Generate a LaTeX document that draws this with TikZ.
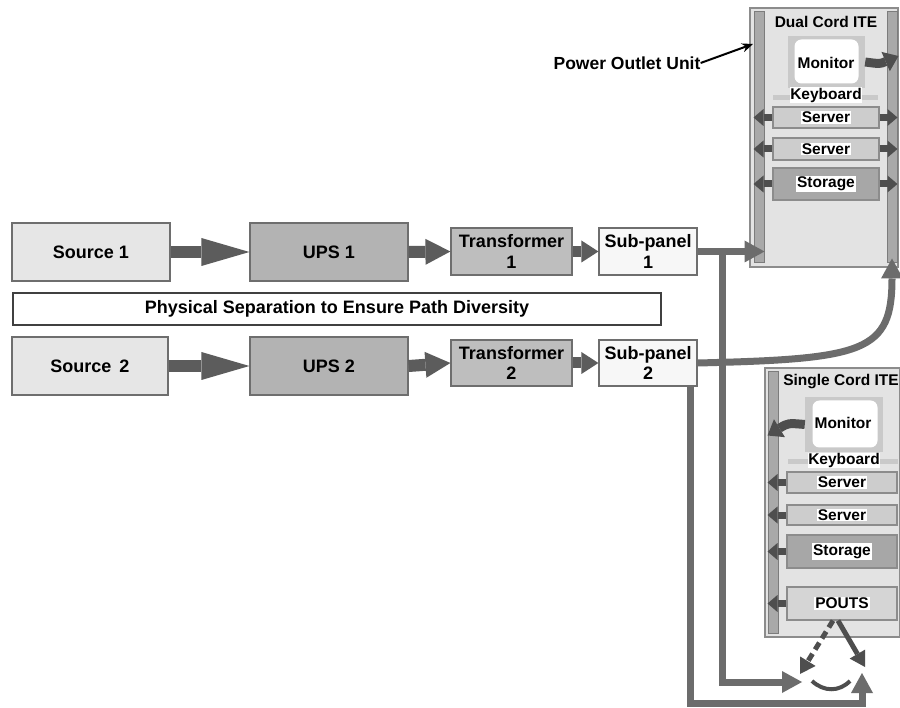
\documentclass[tikz,border=0pt]{standalone}
\usepackage{fontspec}
\setmainfont{Liberation Sans}
\usetikzlibrary{arrows.meta,calc}
\definecolor{boxline}{HTML}{6E6E6E}
\definecolor{srcfill}{HTML}{E6E6E6}
\definecolor{upsfill}{HTML}{B3B3B3}
\definecolor{trfill}{HTML}{BEBEBE}
\definecolor{spfill}{HTML}{F7F7F7}
\definecolor{bigarr}{HTML}{5C5C5C}
\definecolor{connc}{HTML}{6C6C6C}
\definecolor{darkarr}{HTML}{4E4E4E}
\definecolor{rackfill}{HTML}{E3E3E3}
\definecolor{rackline}{HTML}{8C8C8C}
\definecolor{stripfill}{HTML}{A9A9A9}
\definecolor{stripline}{HTML}{7C7C7C}
\definecolor{monfill}{HTML}{C9C9C9}
\definecolor{srvfill}{HTML}{CDCDCD}
\definecolor{stofill}{HTML}{A7A7A7}
\definecolor{poufill}{HTML}{D5D5D5}
\newcommand\biglbl{\fontsize{18}{20.5}\selectfont\bfseries}
\newcommand\racklbl{\fontsize{15.5}{17}\selectfont\bfseries}
\begin{document}
\begin{tikzpicture}[x=1pt,y=-1pt,
  mainbox/.style={draw=boxline,line width=1.2pt,inner sep=0pt,align=center,font=\biglbl},
  bigarrow/.style={draw=bigarr,line width=12pt},
  conn/.style={draw=connc,line width=7pt},
  conntip/.style={-{Triangle[length=20pt,width=22pt,line width=0pt]}},
  rack/.style={draw=rackline,fill=rackfill,line width=1.2pt,inner sep=0pt},
  strip/.style={draw=stripline,fill=stripfill,line width=1pt,inner sep=0pt},
  unit/.style={draw=rackline,line width=1.2pt,inner sep=0pt},
  lbl/.style={fill=white,inner sep=1pt,font=\racklbl},
  ttl/.style={inner sep=0pt,font=\racklbl},
  smarr/.style={draw=darkarr,line width=7pt,-{Triangle[length=10pt,width=17pt,line width=0pt]}},
  monarr/.style={draw=darkarr,line width=9pt,-{Triangle[length=14pt,width=21pt,line width=0pt]}},
  pouarr/.style={draw=darkarr,line width=5pt,-{Triangle[length=15pt,width=18pt,line width=0pt]}}
]
\useasboundingbox[fill=white] (0,0) rectangle (900,708);

% ---------- power path boxes ----------
\node[mainbox,fill=srcfill,minimum width=158pt,minimum height=58pt] (s1) at (91,252) {Source 1};
\node[mainbox,fill=upsfill,minimum width=158pt,minimum height=58pt] (u1) at (329,252) {UPS 1};
\node[mainbox,fill=trfill,minimum width=121pt,minimum height=47pt] (t1) at (511.5,251.5) {Transformer\\1};
\node[mainbox,fill=spfill,minimum width=98pt,minimum height=47pt] (p1) at (648,251.5) {Sub-panel\\1};

\node[mainbox,fill=white,draw=black!75,minimum width=648pt,minimum height=32pt] (sep) at (337,309) {Physical Separation to Ensure Path Diversity};

\node[mainbox,fill=srcfill,minimum width=156pt,minimum height=58pt] (s2) at (90,366) {Source\, 2};
\node[mainbox,fill=upsfill,minimum width=158pt,minimum height=58pt] (u2) at (329,366) {UPS 2};
\node[mainbox,fill=trfill,minimum width=121pt,minimum height=46pt] (t2) at (511.5,363) {Transformer\\2};
\node[mainbox,fill=spfill,minimum width=98pt,minimum height=46pt] (p2) at (648,363) {Sub-panel\\2};

\draw[bigarrow,-{Triangle[length=48pt,width=28pt,line width=0pt]}] (s1.east) -- (u1.west);
\draw[bigarrow,-{Triangle[length=48pt,width=28pt,line width=0pt]}] (s2.east) -- (u2.west);
\draw[bigarrow,-{Triangle[length=25pt,width=26pt,line width=0pt]}] (u1.east) -- (t1.west);
\draw[bigarrow,-{Triangle[length=25pt,width=26pt,line width=0pt]}] (u2.east) -- (t2.west);
\draw[bigarrow,line width=11pt,-{Triangle[length=17pt,width=22pt,line width=0pt]}] (t1.east) -- (p1.west);
\draw[bigarrow,line width=11pt,-{Triangle[length=17pt,width=22pt,line width=0pt]}] (t2.east) -- (p2.west);

% ---------- Dual cord rack ----------
\node[rack,minimum width=148pt,minimum height=259pt] (dual) at (824,137.5) {};
\node[strip,minimum width=10pt,minimum height=251pt] (dl) at (759,137.5) {};
\node[strip,minimum width=10pt,minimum height=251pt] (dr) at (892,137.5) {};
\node[ttl] (dualt) at (826,22) {Dual Cord ITE};
\node[fill=monfill,inner sep=0pt,minimum width=77pt,minimum height=52pt] (dm) at (826.5,62) {};
\node[fill=white,rounded corners=7pt,inner sep=0pt,minimum width=64pt,minimum height=44pt] (dmi) at (826.5,61.5) {};
\node[ttl] (dmt) at (826,63) {Monitor};
\node[fill=monfill,inner sep=0pt,minimum width=105pt,minimum height=5pt] (dk) at (825.5,97.5) {};
\node[lbl,inner sep=0.5pt] (dkt) at (826,95) {Keyboard};
\node[unit,fill=srvfill,minimum width=106pt,minimum height=21pt,label={[lbl]center:Server}] (ds1) at (826,117.5) {};
\node[unit,fill=srvfill,minimum width=106pt,minimum height=22pt,label={[lbl]center:Server}] (ds2) at (826,149) {};
\node[unit,fill=stofill,minimum width=106pt,minimum height=32pt,label={[lbl]center:Storage}] (dst) at (826,184) {};
\foreach \u in {ds1,ds2,dst}{
  \draw[smarr] (\u.west) -- (dl.west |- \u.west);
  \draw[smarr] (\u.east) -- (dr.east |- \u.east);
}
\draw[monarr] (dm.east) .. controls (880,64) .. ($(dm.east -| dr.east)+(1,-6)$);

% ---------- Single cord rack ----------
\node[rack,minimum width=135pt,minimum height=269pt] (single) at (832.5,502.5) {};
\node[strip,minimum width=10pt,minimum height=261pt] (sl) at (773,502.5) {};
\node[ttl] (singlet) at (841,382) {Single Cord ITE};
\node[fill=monfill,inner sep=0pt,minimum width=78pt,minimum height=55pt] (sm) at (844,424.5) {};
\node[fill=white,rounded corners=7pt,inner sep=0pt,minimum width=65pt,minimum height=47pt] (smi) at (845,424) {};
\node[ttl] (smt) at (843,423) {Monitor};
\node[fill=monfill,inner sep=0pt,minimum width=110pt,minimum height=5pt] (sk) at (843,461.5) {};
\node[lbl,inner sep=0.5pt] (skt) at (844,460.5) {Keyboard};
\node[unit,fill=srvfill,minimum width=110pt,minimum height=21pt,label={[lbl]center:Server}] (ss1) at (842,482.5) {};
\node[unit,fill=srvfill,minimum width=110pt,minimum height=20pt,label={[lbl]center:Server}] (ss2) at (842,515) {};
\node[unit,fill=stofill,minimum width=110pt,minimum height=33pt,label={[lbl]center:Storage}] (sst) at (842,551.5) {};
\node[unit,fill=poufill,minimum width=110pt,minimum height=33pt,label={[lbl]center:POUTS}] (pouts) at (842,603.5) {};
\foreach \u in {ss1,ss2,sst,pouts}{
  \draw[smarr] (\u.west) -- (sl.west |- \u.west);
}
\draw[monarr] (sm.west) .. controls (788,423) .. ($(sm.west -| sl.west)+(0,11)$);

% ---------- Power outlet unit callout ----------
\node[inner sep=0pt,font=\fontsize{17.5}{20}\selectfont\bfseries] (pou) at (627,63) {Power Outlet Unit};
\coordinate (poutip) at (753,44);
\draw[black,line width=2pt,-{Stealth[length=11pt,width=9pt]}] (pou.east) -- (poutip);

% ---------- connectors from sub-panels ----------
\coordinate (j1) at (722,252);
\coordinate (j2) at (690,703);
\coordinate (tipA) at (802,682);
\coordinate (tipB) at (800,674);
\coordinate (tipC) at (862,673);
\coordinate (tipD) at (865,667);

\draw[conn,conntip] (p1.east) -- (p1.east -| dl.east);
\draw[conn,conntip] (j1) |- (tipA);
\draw[conn,conntip] (p2.east) .. controls (865,359) and (892,352) .. ($(dr.south)+(0,-5)$);
\draw[conn,conntip] (p2.south -| j2) -- (j2) -| (tipC);

\draw[pouarr,dash pattern=on 8pt off 5pt] ([xshift=-9pt]pouts.south) -- (tipB);
\draw[pouarr] ([xshift=-4pt]pouts.south) -- (tipD);
\draw[draw=darkarr,line width=4pt] (812,681) .. controls (824,692) and (839,692) .. (850,681);
\end{tikzpicture}
\end{document}
